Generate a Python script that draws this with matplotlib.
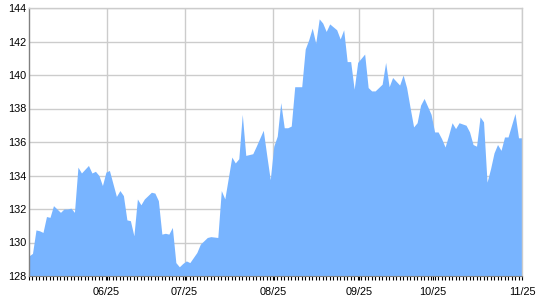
import matplotlib
matplotlib.use("Agg")
import matplotlib.pyplot as plt

# trading-day index and closing price
day = [0, 1, 2, 3, 4, 5, 6, 7, 9, 10, 11, 12, 13, 14, 15, 17, 18, 19, 20, 21,
       22, 23, 25, 26, 27, 28, 29, 30, 31, 32, 33, 34, 35, 36, 37, 38, 39, 40, 41, 42,
       43, 44, 45, 46, 48, 49, 50, 51, 52, 54, 55, 56, 58, 59, 60, 61, 62, 64, 65, 67,
       68, 69, 70, 71, 72, 73, 74, 75, 76, 78, 79, 80, 81, 82, 83, 84, 85, 86, 88, 89,
       90, 91, 92, 93, 94, 96, 97, 98, 99, 100, 101, 102, 103, 104, 106, 107, 108, 109, 110, 111,
       112, 113, 115, 116, 117, 118, 119, 120, 121, 122, 123, 125, 126, 127, 128, 129, 130, 131, 132, 133,
       134, 135, 136, 137, 139, 140, 141]
price = [129.2, 129.35, 130.75, 130.7, 130.6, 131.55, 131.5, 132.2, 131.8, 132.0,
         132.0, 132.05, 131.8, 134.5, 134.15, 134.6, 134.15, 134.25, 134.0, 133.4,
         134.2, 134.3, 132.75, 133.1, 132.8, 131.35, 131.3, 130.4, 132.6, 132.25,
         132.6, 132.8, 133.0, 132.95, 132.5, 130.5, 130.55, 130.5, 130.9, 128.8,
         128.55, 128.75, 128.9, 128.8, 129.4, 129.9, 130.1, 130.3, 130.35, 130.3,
         133.1, 132.6, 135.1, 134.75, 135.0, 137.65, 135.2, 135.3, 135.75, 136.7,
         135.2, 133.75, 135.75, 136.35, 138.35, 136.85, 136.85, 136.95, 139.3, 139.3,
         141.55, 142.1, 142.8, 141.9, 143.35, 143.1, 142.6, 143.05, 142.7, 142.15,
         142.7, 140.8, 140.8, 139.15, 140.75, 141.25, 139.25, 139.05, 139.05, 139.25,
         139.45, 140.75, 139.3, 139.85, 139.4, 140.0, 139.25, 138.05, 136.9, 137.15,
         138.2, 138.6, 137.65, 136.6, 136.6, 136.2, 135.7, 136.4, 137.15, 136.8,
         137.15, 137.0, 136.6, 135.85, 135.75, 137.5, 137.2, 133.6, 134.4, 135.35,
         135.85, 135.5, 136.3, 136.3, 137.7, 136.25, 136.25]

month_pos = [22.2, 44.5, 69.9, 94.4, 115.5, 141]
month_labels = ["06/25", "07/25", "08/25", "09/25", "10/25", "11/25"]
y_ticks = [128, 130, 132, 134, 136, 138, 140, 142, 144]

plt.rcParams['font.family'] = ['Liberation Sans', 'DejaVu Sans']

fig = plt.figure(figsize=(5.4, 3.0), dpi=100)
ax = fig.add_axes([29 / 540, 24 / 300, 493 / 540, 268 / 300])

ax.fill_between(day, price, 128, color='#78b4ff', linewidth=0, zorder=2)

ax.set_xlim(0, 141)
ax.set_ylim(128, 144)
ax.set_yticks(y_ticks)
ax.set_yticklabels([str(v) for v in y_ticks])
ax.set_xticks(month_pos)
ax.set_xticklabels(month_labels)
ax.set_xticks(range(0, 142), minor=True)

ax.grid(True, which='major', color='#cccccc', linewidth=1.0, zorder=1)
ax.set_axisbelow(True)

ax.tick_params(axis='y', length=0, pad=2, labelsize=7.8, colors='black')
ax.tick_params(axis='x', which='major', length=3, width=0.8, pad=5, labelsize=7.8, colors='black')
ax.tick_params(axis='x', which='minor', length=3, width=0.8, color='black')

for s in ['top', 'right']:
    ax.spines[s].set_color('#cccccc')
    ax.spines[s].set_linewidth(1.0)
ax.spines['left'].set_color('#808080')
ax.spines['left'].set_linewidth(1.0)
ax.spines['bottom'].set_color('#808080')
ax.spines['bottom'].set_linewidth(0.8)

fig.savefig("out.png", dpi=100)
